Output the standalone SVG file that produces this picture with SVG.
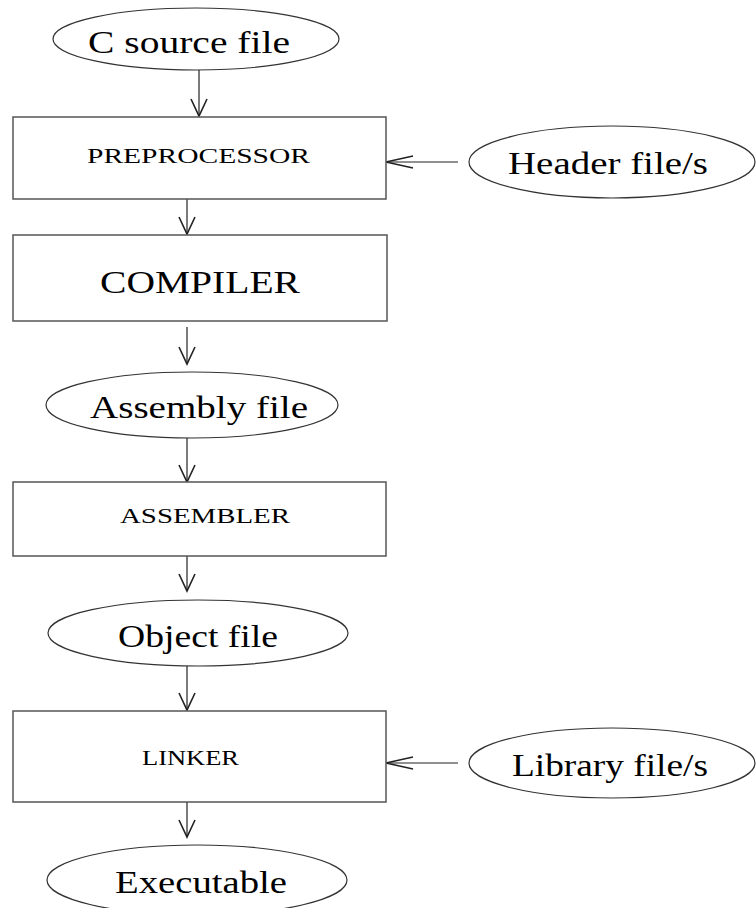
<svg xmlns="http://www.w3.org/2000/svg" width="756" height="908" viewBox="0 0 756 908">
<defs>
<style>
.box{fill:#fff;stroke:#555;stroke-width:1.5}
.ell{fill:#fff;stroke:#333;stroke-width:1.2}
.t{font-family:"Liberation Serif","Times New Roman",serif;fill:#000}
.big{font-size:31px}
.sm{font-size:20px}
.edge{fill:none;stroke:#222;stroke-width:1.2}
</style>
<marker id="av" markerUnits="userSpaceOnUse" viewBox="-20 -10 22 20" refX="0" refY="0" markerWidth="22" markerHeight="20" orient="auto" overflow="visible">
<path d="M-17,-8 L0,0 L-17,8" fill="none" stroke="#222" stroke-width="1.6"/>
</marker>
<marker id="ah" markerUnits="userSpaceOnUse" viewBox="-30 -8 32 16" refX="0" refY="0" markerWidth="32" markerHeight="16" orient="auto" overflow="visible">
<path d="M-27,-6 L0,0 L-27,6" fill="none" stroke="#222" stroke-width="1.6"/>
</marker>
</defs>
<rect width="756" height="908" fill="#fff"/>
<g id="connectors">
<line class="edge" x1="199" y1="70" x2="199" y2="116" marker-end="url(#av)"/>
<line class="edge" x1="187" y1="199" x2="187" y2="234" marker-end="url(#av)"/>
<line class="edge" x1="187" y1="327" x2="187" y2="364" marker-end="url(#av)"/>
<line class="edge" x1="187" y1="438" x2="187" y2="482" marker-end="url(#av)"/>
<line class="edge" x1="187" y1="556" x2="187" y2="591" marker-end="url(#av)"/>
<line class="edge" x1="187" y1="666" x2="187" y2="710" marker-end="url(#av)"/>
<line class="edge" x1="187" y1="802" x2="187" y2="837" marker-end="url(#av)"/>
<line class="edge" x1="458" y1="162" x2="386" y2="162" marker-end="url(#ah)"/>
<line class="edge" x1="458" y1="763" x2="386" y2="763" marker-end="url(#ah)"/>
</g>
<g id="c_source">
<ellipse class="ell" cx="196" cy="39" rx="143" ry="31"/>
<text class="t big" x="88" y="53" textLength="202" lengthAdjust="spacingAndGlyphs">C source file</text>
</g>
<g id="preprocessor">
<rect class="box" x="13" y="117" width="373" height="82"/>
<text class="t sm" x="87" y="163" textLength="223" lengthAdjust="spacingAndGlyphs">PREPROCESSOR</text>
</g>
<g id="header">
<ellipse class="ell" cx="612" cy="162" rx="143" ry="36"/>
<text class="t big" x="508" y="174" textLength="200" lengthAdjust="spacingAndGlyphs">Header file/s</text>
</g>
<g id="compiler">
<rect class="box" x="13" y="235" width="374" height="86"/>
<text class="t big" x="100" y="293" textLength="200" lengthAdjust="spacingAndGlyphs">COMPILER</text>
</g>
<g id="assembly">
<ellipse class="ell" cx="192" cy="405" rx="146" ry="33"/>
<text class="t big" x="90" y="418" textLength="218" lengthAdjust="spacingAndGlyphs">Assembly file</text>
</g>
<g id="assembler">
<rect class="box" x="13" y="482" width="373" height="74"/>
<text class="t sm" x="120" y="523" textLength="170" lengthAdjust="spacingAndGlyphs">ASSEMBLER</text>
</g>
<g id="object">
<ellipse class="ell" cx="198" cy="633" rx="150" ry="33"/>
<text class="t big" x="118" y="647" textLength="160" lengthAdjust="spacingAndGlyphs">Object file</text>
</g>
<g id="linker">
<rect class="box" x="13" y="711" width="373" height="91"/>
<text class="t sm" x="142" y="765" textLength="97" lengthAdjust="spacingAndGlyphs">LINKER</text>
</g>
<g id="library">
<ellipse class="ell" cx="612" cy="763" rx="143" ry="35"/>
<text class="t big" x="512" y="776" textLength="196" lengthAdjust="spacingAndGlyphs">Library file/s</text>
</g>
<g id="executable">
<ellipse class="ell" cx="197" cy="880" rx="150" ry="35"/>
<text class="t big" x="115" y="893" textLength="172" lengthAdjust="spacingAndGlyphs">Executable</text>
</g>
</svg>
